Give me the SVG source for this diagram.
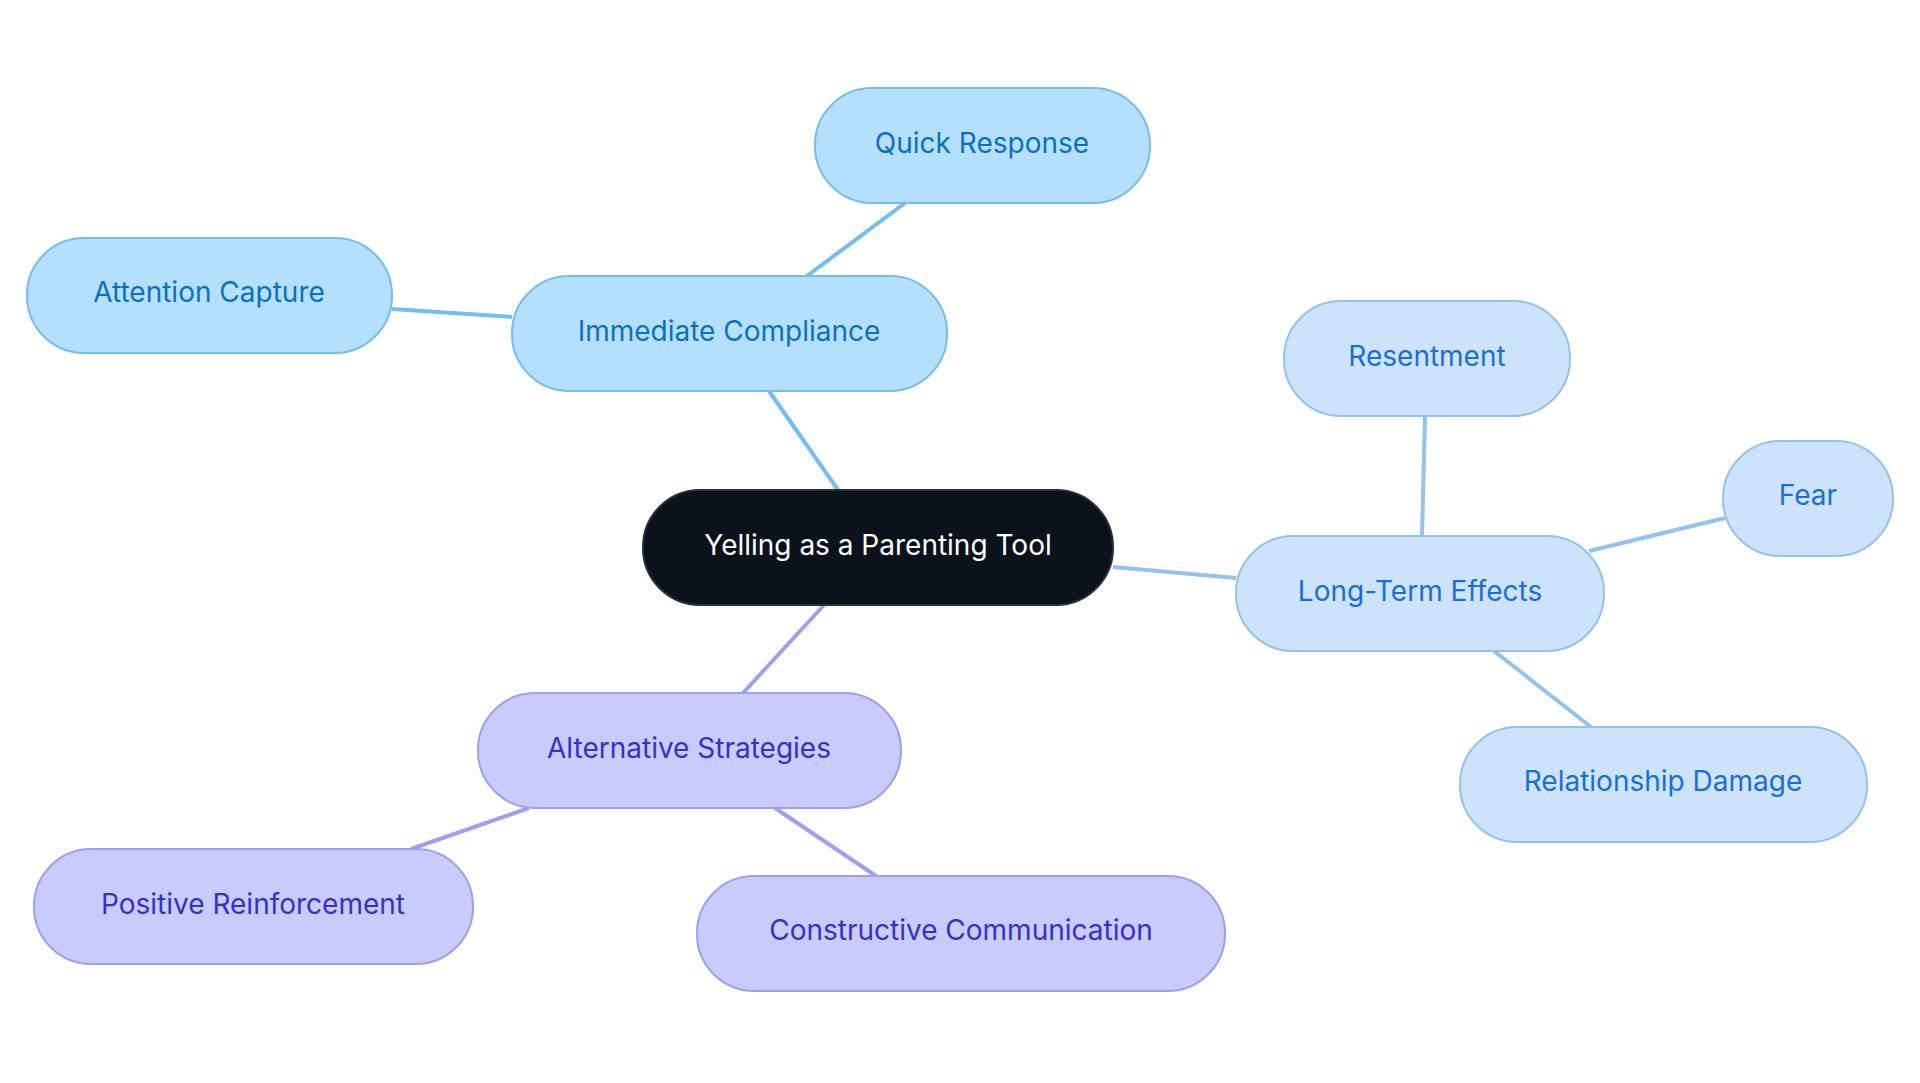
<svg xmlns="http://www.w3.org/2000/svg" width="1920" height="1083" viewBox="0 0 1920 1083">
<style>
text{font-family:Inter,"Noto Sans",sans-serif;font-size:28px;text-anchor:middle;dominant-baseline:central}
.a rect{fill:#b5e0fd;stroke:#76bdef;stroke-width:2}.a text{fill:#0b70be}
.b rect{fill:#cde3fb;stroke:#94c1ee;stroke-width:2}.b text{fill:#1b6ed2}
.c rect{fill:#cacbfd;stroke:#9d9ff0;stroke-width:2}.c text{fill:#3232c6}
.e line{stroke-width:4}
</style>
<rect width="1920" height="1083" fill="#fff"/>
<g class="e">
<line x1="838" y1="490" x2="769" y2="391" stroke="#76bdef"/>
<line x1="807" y1="276" x2="905" y2="203" stroke="#76bdef"/>
<line x1="512" y1="317" x2="392" y2="309" stroke="#76bdef"/>
<line x1="1113" y1="567" x2="1236" y2="578" stroke="#94c1ee"/>
<line x1="1422" y1="536" x2="1425" y2="416" stroke="#94c1ee"/>
<line x1="1589" y1="551" x2="1725" y2="518" stroke="#94c1ee"/>
<line x1="1494" y1="651" x2="1591" y2="727" stroke="#94c1ee"/>
<line x1="824" y1="605" x2="743" y2="693" stroke="#9d9ff0"/>
<line x1="529" y1="808" x2="411" y2="849" stroke="#9d9ff0"/>
<line x1="775" y1="808" x2="876" y2="876" stroke="#9d9ff0"/>
</g>
<g id="center"><rect x="643" y="490" width="470" height="115" rx="57" fill="#0b121b" stroke="#2a2f36" stroke-width="2"/><text x="878" y="545" fill="#fff">Yelling as a Parenting Tool</text></g>
<g id="ic" class="a"><rect x="512" y="276" width="435" height="115" rx="57"/><text x="729" y="331">Immediate Compliance</text></g>
<g id="qr" class="a"><rect x="815" y="88" width="335" height="115" rx="57"/><text x="982" y="143">Quick Response</text></g>
<g id="ac" class="a"><rect x="27" y="238" width="365" height="115" rx="57"/><text x="209" y="292">Attention Capture</text></g>
<g id="lt" class="b"><rect x="1236" y="536" width="368" height="115" rx="57"/><text x="1420" y="591">Long-Term Effects</text></g>
<g id="res" class="b"><rect x="1284" y="301" width="286" height="115" rx="57"/><text x="1427" y="356">Resentment</text></g>
<g id="fear" class="b"><rect x="1723" y="441" width="170" height="115" rx="57"/><text x="1808" y="495">Fear</text></g>
<g id="rd" class="b"><rect x="1460" y="727" width="407" height="115" rx="57"/><text x="1663" y="781">Relationship Damage</text></g>
<g id="alt" class="c"><rect x="478" y="693" width="423" height="115" rx="57"/><text x="689" y="748">Alternative Strategies</text></g>
<g id="pos" class="c"><rect x="34" y="849" width="439" height="115" rx="57"/><text x="253" y="904">Positive Reinforcement</text></g>
<g id="con" class="c"><rect x="697" y="876" width="528" height="115" rx="57"/><text x="961" y="930">Constructive Communication</text></g>
</svg>
